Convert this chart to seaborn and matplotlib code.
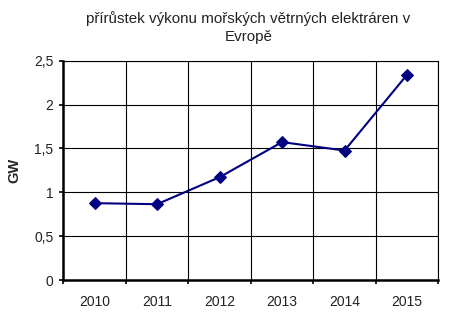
import matplotlib
matplotlib.use("Agg")
import matplotlib.pyplot as plt
from matplotlib.ticker import FixedLocator, FuncFormatter
import seaborn as sns
import pandas as pd

years = ["2010", "2011", "2012", "2013", "2014", "2015"]
gw = [0.876, 0.864, 1.172, 1.572, 1.476, 2.34]
title = "přírůstek výkonu mořských větrných elektráren v\nEvropě"
ylabel = "GW"

sns.set_style("white")
plt.rcParams["font.family"] = ["Liberation Sans", "DejaVu Sans"]

df = pd.DataFrame({"year": years, "gw": gw})

fig = plt.figure(figsize=(4.5, 3.26), dpi=100)
ax = fig.add_axes([63.3 / 450, 1 - 280 / 326, 375 / 450, (280 - 60.7) / 326])

sns.lineplot(data=df, x="year", y="gw", ax=ax, color="#000080", linewidth=1.5,
             marker="D", markersize=6.5, markeredgecolor="#000080",
             markerfacecolor="#000080", sort=False, zorder=5)

ax.set_xlim(-0.5, 5.5)
ax.set_ylim(0, 2.5)
ax.set_yticks([0, 0.5, 1, 1.5, 2, 2.5])
ax.yaxis.set_major_formatter(FuncFormatter(lambda v, p: ("%g" % v).replace(".", ",")))
ax.set_xticks(range(len(years)))
ax.set_xticklabels(years)
ax.xaxis.set_minor_locator(FixedLocator([i - 0.5 for i in range(len(years) + 1)]))

ax.grid(False)
ax.grid(True, axis="y", which="major", color="black", linewidth=0.8)
ax.grid(True, axis="x", which="minor", color="black", linewidth=0.8)

ax.tick_params(axis="x", which="major", length=0, pad=11, labelsize=10, colors="#222222")
ax.tick_params(axis="x", which="minor", length=3, width=1.2, direction="out", color="black", bottom=True)
ax.tick_params(axis="y", which="major", length=3, width=1.2, direction="out", pad=4,
               labelsize=10, labelcolor="#222222", color="black", left=True)

for s in ["left", "bottom"]:
    ax.spines[s].set_linewidth(1.8)
    ax.spines[s].set_color("black")
for s in ["top", "right"]:
    ax.spines[s].set_linewidth(0.8)
    ax.spines[s].set_color("black")

ax.set_xlabel("")
ax.set_ylabel(ylabel, fontsize=10.5, fontweight="bold")
ax.yaxis.set_label_coords((21 - 63.3) / 375, (280 - 170) / (280 - 60.7))

fig.text(248.5 / 450, 1 - 27.5 / 326, title, ha="center", va="center", fontsize=10.9,
         color="#222222", linespacing=1.3)

fig.savefig("out.png", dpi=100)
